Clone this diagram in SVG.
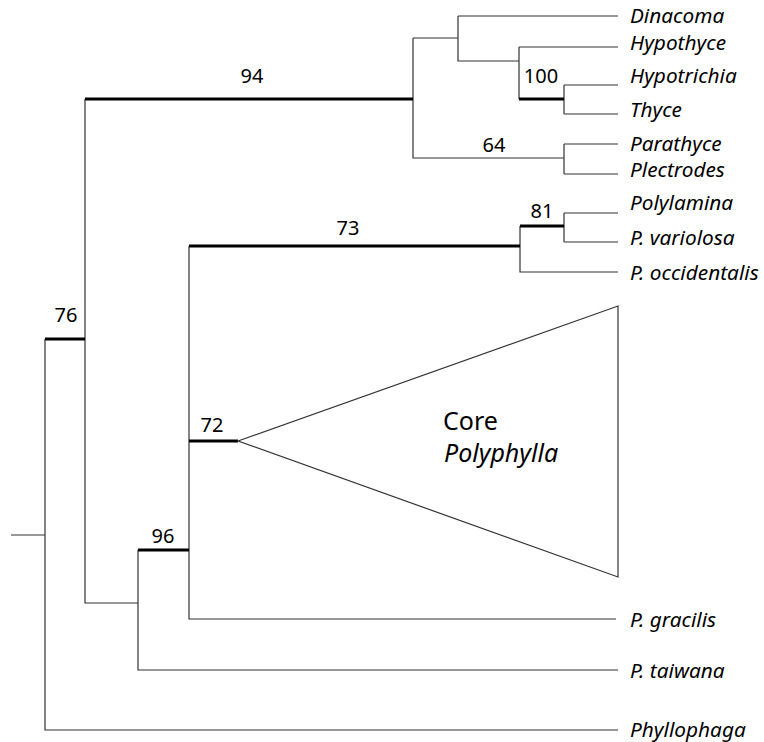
<svg xmlns="http://www.w3.org/2000/svg" width="764" height="742" viewBox="0 0 764 742">
  <style>
    .br { stroke: #333; stroke-width: 1.2; fill: none; }
    .bs { stroke: #000; stroke-width: 3; fill: none; }
    .tx { font-family: "Noto Sans", "Liberation Sans", sans-serif; font-size: 20.8px; font-style: italic; fill: #000; }
    .sv { font-family: "Noto Sans", "Liberation Sans", sans-serif; font-size: 20px; fill: #000; text-anchor: middle; }
    .core { font-family: "Noto Sans", "Liberation Sans", sans-serif; font-size: 25px; fill: #000; }
  </style>
  <rect width="764" height="742" fill="#fff"/>
  <g id="connectors">
    <path class="br" d="M11,535 H45 M45,339 V730 H618 M85,99 V603 H138 M413,38 V158 H564 M413,38 H458 M458,16 V61 H519 M458,16 H618 M519,47 V99 M519,47 H618 M564,85 V114 M564,85 H618 M564,114 H618 M564,144 V174 M564,144 H618 M564,174 H618 M138,550 V670 H618 M189,246 V619 H616 M520,226 V272 H618 M564,213 V242 M564,213 H618 M564,242 H618"/>
    <path class="bs" d="M45,339 H85 M85,99 H413 M519,99 H564 M138,550 H189 M189,246 H520 M520,226 H564 M189,441 H238"/>
  </g>
  <g id="support">
    <text class="sv" x="252" y="83">94</text>
    <text class="sv" x="541" y="83">100</text>
    <text class="sv" x="494" y="152">64</text>
    <text class="sv" x="66" y="322">76</text>
    <text class="sv" x="348" y="235">73</text>
    <text class="sv" x="542" y="218">81</text>
    <text class="sv" x="212" y="432">72</text>
    <text class="sv" x="163" y="543">96</text>
  </g>
  <g id="core-polyphylla">
    <polygon points="238,441 618,306 618,577" fill="#fff" stroke="#333" stroke-width="1.2"/>
    <text class="core" x="443" y="430">Core</text>
    <text class="core" x="444" y="462" font-style="italic" font-size="26.5">Polyphylla</text>
  </g>
  <g id="dinacoma"><text class="tx" x="630" y="23">Dinacoma</text></g>
  <g id="hypothyce"><text class="tx" x="630" y="49.5">Hypothyce</text></g>
  <g id="hypotrichia"><text class="tx" x="630" y="83">Hypotrichia</text></g>
  <g id="thyce"><text class="tx" x="630" y="117">Thyce</text></g>
  <g id="parathyce"><text class="tx" x="630" y="151">Parathyce</text></g>
  <g id="plectrodes"><text class="tx" x="630" y="177">Plectrodes</text></g>
  <g id="polylamina"><text class="tx" x="630" y="210">Polylamina</text></g>
  <g id="p-variolosa"><text class="tx" x="630" y="245">P. variolosa</text></g>
  <g id="p-occidentalis"><text class="tx" x="630" y="280">P. occidentalis</text></g>
  <g id="p-gracilis"><text class="tx" x="630" y="627">P. gracilis</text></g>
  <g id="p-taiwana"><text class="tx" x="630" y="678">P. taiwana</text></g>
  <g id="phyllophaga"><text class="tx" x="630" y="737">Phyllophaga</text></g>
</svg>
